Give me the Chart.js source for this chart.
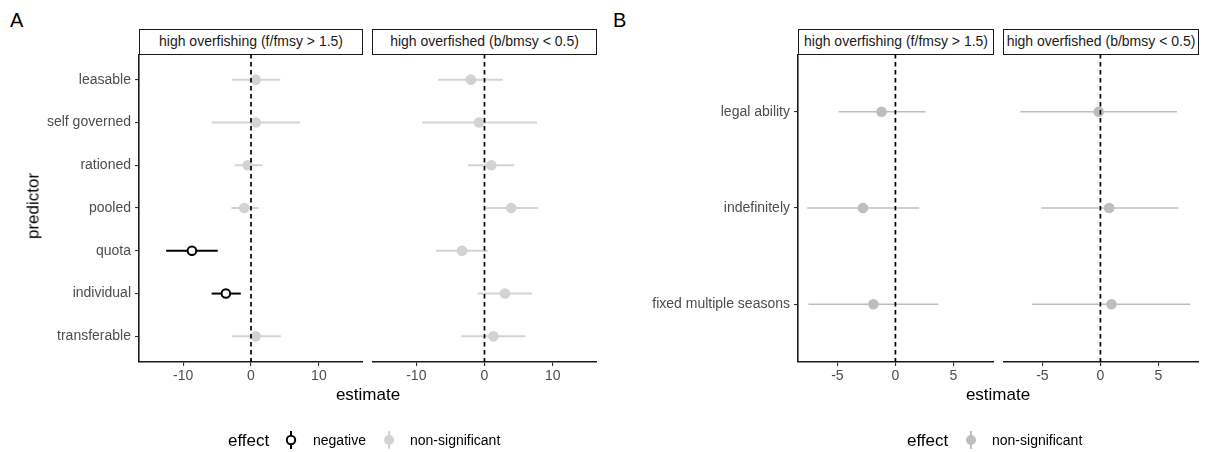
<!DOCTYPE html>
<html>
<head>
<meta charset="utf-8">
<script src="https://cdn.jsdelivr.net/npm/chart.js@4.4.1/dist/chart.umd.min.js"></script>
<style>
  html, body { margin: 0; padding: 0; background: #fff; }
  body { width: 1205px; height: 452px; position: relative; overflow: hidden;
         font-family: "Liberation Sans", Arial, sans-serif; }
  canvas { position: absolute; }
  .strip { position: absolute; box-sizing: border-box; border: 1.6px solid #1a1a1a;
           font-size: 14px; color: #1a1a1a; text-align: center; line-height: 22px;
           white-space: nowrap; overflow: hidden; }
  .txt { position: absolute; white-space: nowrap; line-height: 1; transform: translateY(-50%); }
</style>
</head>
<body>

<div class="txt" style="left:10px; top:20px; font-size:20px; color:#000;">A</div>
<div class="txt" style="left:613px; top:20px; font-size:20px; color:#000;">B</div>

<div class="strip" style="left:139px; top:29px; width:224px; height:26px;">high overfishing (f/fmsy &gt; 1.5)</div>
<div class="strip" style="left:372px; top:29px; width:225px; height:26px;">high overfished (b/bmsy &lt; 0.5)</div>
<div class="strip" style="left:798px; top:29px; width:196px; height:26px;">high overfishing (f/fmsy &gt; 1.5)</div>
<div class="strip" style="left:1003px; top:29px; width:196px; height:26px;">high overfished (b/bmsy &lt; 0.5)</div>

<canvas id="a1" width="363" height="348" style="left:0px; top:54px;"></canvas>
<canvas id="a2" width="225" height="348" style="left:372px; top:54px;"></canvas>
<canvas id="b1" width="394" height="348" style="left:600px; top:54px;"></canvas>
<canvas id="b2" width="196" height="348" style="left:1003px; top:54px;"></canvas>

<div class="txt" style="left:33px; top:206px; font-size:17px; color:#000; transform:translate(-50%,-50%) rotate(-90deg);">predictor</div>
<div class="txt" style="left:368px; top:394px; font-size:17px; color:#000; transform:translate(-50%,-50%);">estimate</div>
<div class="txt" style="left:998px; top:394px; font-size:17px; color:#000; transform:translate(-50%,-50%);">estimate</div>

<!-- legend, panel A -->
<div class="txt" style="left:228px; top:440px; font-size:17px; color:#000;">effect</div>
<svg style="position:absolute; left:284px; top:430px;" width="14" height="20">
  <line x1="7" y1="1" x2="7" y2="19" stroke="#000" stroke-width="2"/>
  <circle cx="7" cy="10" r="4.2" fill="#fff" stroke="#000" stroke-width="2"/>
</svg>
<div class="txt" style="left:313px; top:440px; font-size:14px; color:#000;">negative</div>
<svg style="position:absolute; left:382px; top:430px;" width="14" height="20">
  <line x1="7" y1="1" x2="7" y2="19" stroke="#d3d3d3" stroke-width="2"/>
  <circle cx="7" cy="10" r="5" fill="#d3d3d3"/>
</svg>
<div class="txt" style="left:410px; top:440px; font-size:14px; color:#000;">non-significant</div>

<!-- legend, panel B -->
<div class="txt" style="left:907px; top:440px; font-size:17px; color:#000;">effect</div>
<svg style="position:absolute; left:964px; top:430px;" width="14" height="20">
  <line x1="7" y1="1" x2="7" y2="19" stroke="#bebebe" stroke-width="2"/>
  <circle cx="7" cy="10" r="5" fill="#bebebe"/>
</svg>
<div class="txt" style="left:992px; top:440px; font-size:14px; color:#000;">non-significant</div>

<script>
// panel A: management predictors
const predictors = ["leasable", "self governed", "rationed", "pooled", "quota", "individual", "transferable"];
const fishingEst = [0.7, 0.7, -0.5, -1.0, -8.7, -3.7, 0.7];
const fishingLo = [-2.8, -5.8, -2.4, -2.9, -12.5, -5.8, -2.8];
const fishingHi = [4.3, 7.2, 1.7, 1.1, -4.9, -1.5, 4.4];
const fishingEffect = ["ns", "ns", "ns", "ns", "negative", "negative", "ns"];

const fishedEst = [-2.0, -0.8, 1.0, 3.9, -3.3, 3.0, 1.3];
const fishedLo = [-6.8, -9.1, -2.4, 0.1, -7.1, -1.0, -3.4];
const fishedHi = [2.7, 7.7, 4.35, 7.85, 0.45, 7.0, 6.0];
const fishedEffect = ["ns", "ns", "ns", "ns", "ns", "ns", "ns"];

const ticksA = [-10, 0, 10];

// panel B: duration of rights
const durations = ["legal ability", "indefinitely", "fixed multiple seasons"];
const durFishingEst = [-1.2, -2.8, -1.9];
const durFishingLo = [-4.9, -7.6, -7.5];
const durFishingHi = [2.6, 2.05, 3.7];
const durFishedEst = [-0.15, 0.75, 0.95];
const durFishedLo = [-6.9, -5.1, -5.9];
const durFishedHi = [6.6, 6.7, 7.75];
const durEffect = ["ns", "ns", "ns"];

const ticksB = [-5, 0, 5];

const FONT = "'Liberation Sans', Arial, sans-serif";

function facet(id, cfg) {
  const n = cfg.labels.length;
  const yMin = 0.4, yMax = n + 0.6;
  const datasets = [];

  // dashed zero line, on top of everything
  datasets.push({
    data: [{ x: 0, y: yMin }, { x: 0, y: yMax }],
    showLine: true, borderColor: "#000", borderWidth: 1.7, borderDash: [4.5, 3.5],
    pointRadius: 0, order: 0
  });

  // point estimates
  datasets.push({
    data: cfg.est.map((v, i) => ({ x: v, y: i + 1 })),
    pointRadius: cfg.effect.map(e => e === "negative" ? 4.3 : 5.3),
    pointBackgroundColor: cfg.effect.map(e => e === "negative" ? "#fff" : cfg.grey),
    pointBorderColor: cfg.effect.map(e => e === "negative" ? "#000" : cfg.grey),
    pointBorderWidth: cfg.effect.map(e => e === "negative" ? 2 : 0),
    order: 1
  });

  // interval bars
  cfg.lo.forEach((lo, i) => {
    const neg = cfg.effect[i] === "negative";
    datasets.push({
      data: [{ x: lo, y: i + 1 }, { x: cfg.hi[i], y: i + 1 }],
      showLine: true, borderColor: neg ? "#000" : cfg.grey, borderWidth: neg ? 2 : cfg.barWidth,
      pointRadius: 0, order: 2
    });
  });

  // keep the plot area fixed: no extra room for overhanging tick labels
  const noPad = axis => {
    axis.paddingTop = axis.paddingBottom = axis.paddingLeft = axis.paddingRight = 0;
  };

  return new Chart(document.getElementById(id), {
    type: "scatter",
    data: { datasets },
    options: {
      responsive: false,
      animation: false,
      events: [],
      layout: { padding: 0, autoPadding: false },
      plugins: { legend: { display: false }, tooltip: { enabled: false } },
      scales: {
        x: {
          type: "linear",
          min: cfg.xMin, max: cfg.xMax,
          afterBuildTicks: axis => { axis.ticks = cfg.ticks.map(v => ({ value: v })); },
          afterFit: axis => { axis.height = 40; noPad(axis); },
          border: { display: true, color: "#1a1a1a", width: 1.6 },
          grid: { display: true, drawOnChartArea: false, drawTicks: true, tickLength: 4, color: "#333", lineWidth: 1.1 },
          ticks: { color: "#4d4d4d", font: { family: FONT, size: 14 }, padding: 2, maxRotation: 0,
                   callback: v => String(v) }
        },
        y: {
          type: "linear",
          display: cfg.showY,
          reverse: true,
          min: yMin, max: yMax,
          afterBuildTicks: axis => { axis.ticks = cfg.labels.map((_, i) => ({ value: i + 1 })); },
          afterFit: axis => { axis.width = cfg.yWidth; noPad(axis); },
          border: { display: true, color: "#1a1a1a", width: 1.6 },
          grid: { display: true, drawOnChartArea: false, drawTicks: true, tickLength: 4, color: "#333", lineWidth: 1.1 },
          ticks: { color: "#4d4d4d", font: { family: FONT, size: 14 }, padding: 4,
                   callback: v => cfg.labels[v - 1] }
        }
      }
    }
  });
}

facet("a1", { labels: predictors, est: fishingEst, lo: fishingLo, hi: fishingHi, effect: fishingEffect,
  grey: "#d3d3d3", barWidth: 2, xMin: -16.5, xMax: 16.5, ticks: ticksA, showY: true, yWidth: 139 });
facet("a2", { labels: predictors, est: fishedEst, lo: fishedLo, hi: fishedHi, effect: fishedEffect,
  grey: "#d3d3d3", barWidth: 2, xMin: -16.5, xMax: 16.5, ticks: ticksA, showY: false, yWidth: 0 });
facet("b1", { labels: durations, est: durFishingEst, lo: durFishingLo, hi: durFishingHi, effect: durEffect,
  grey: "#bebebe", barWidth: 1.6, xMin: -8.4, xMax: 8.5, ticks: ticksB, showY: true, yWidth: 198 });
facet("b2", { labels: durations, est: durFishedEst, lo: durFishedLo, hi: durFishedHi, effect: durEffect,
  grey: "#bebebe", barWidth: 1.6, xMin: -8.4, xMax: 8.5, ticks: ticksB, showY: false, yWidth: 0 });
</script>
</body>
</html>
